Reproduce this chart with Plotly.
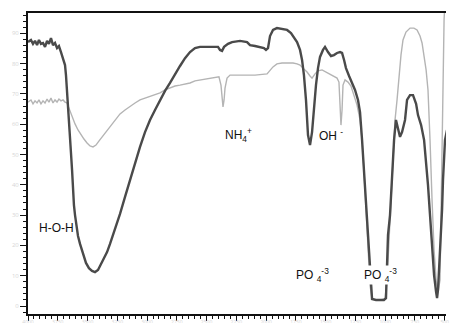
import plotly.graph_objects as go

# Dark spectrum (wavenumber cm-1, transmittance %)
dark_wn = [4000, 3975, 3958, 3941, 3924, 3908, 3891, 3874, 3857, 3840, 3824, 3807, 3790, 3773, 3756, 3740,
           3723, 3706, 3689, 3681, 3672, 3664, 3656, 3647, 3639, 3630, 3622, 3614, 3605, 3588, 3580, 3563,
           3538, 3513, 3488, 3462, 3437, 3412, 3395, 3362, 3336, 3311, 3269, 3227, 3185, 3143, 3101, 3059,
           3017, 2975, 2933, 2891, 2849, 2807, 2765, 2723, 2681, 2639, 2597, 2555, 2471, 2404, 2387, 2370,
           2353, 2320, 2286, 2219, 2160, 2135, 2093, 2051, 2018, 2001, 1984, 1967, 1942, 1909, 1858, 1824,
           1791, 1766, 1740, 1715, 1698, 1682, 1665, 1648, 1631, 1614, 1598, 1581, 1564, 1547, 1522, 1505,
           1480, 1455, 1430, 1404, 1379, 1362, 1345, 1329, 1303, 1278, 1253, 1228, 1211, 1194, 1178, 1161,
           1152, 1144, 1127, 1119, 1110, 1077, 1043, 1010, 993, 984, 976, 959, 942, 925, 909, 892,
           875, 858, 833, 816, 791, 766, 740, 724, 698, 673, 656, 640, 623, 606, 589, 572,
           564, 556, 539, 522, 514, 497, 480]
dark_t = [87.1, 87.8, 86.5, 87.5, 86.1, 87.8, 86.5, 86.8, 85.5, 87.5, 86.5, 88.4, 86.1, 86.8, 85.1, 85.8,
          83.8, 81.8, 79.5, 76.2, 71.3, 64.7, 59.7, 54.8, 50.5, 44.9, 38.3, 33.3, 30.0, 25.7, 23.1, 20.5,
          17.2, 14.2, 12.5, 11.6, 11.2, 11.9, 13.2, 15.8, 17.8, 20.5, 25.1, 30.4, 36.0, 41.6, 47.2, 52.5,
          57.4, 61.4, 64.7, 68.0, 71.0, 73.6, 76.6, 79.2, 81.8, 83.8, 85.1, 85.5, 85.5, 85.5, 84.5, 84.2,
          85.5, 86.5, 87.1, 87.5, 87.1, 86.1, 85.8, 85.5, 85.1, 84.5, 85.1, 89.1, 91.1, 91.7, 91.4, 91.1,
          90.1, 88.8, 87.1, 84.5, 81.2, 76.2, 68.0, 56.4, 53.1, 57.4, 65.3, 72.9, 78.5, 82.2, 84.5, 85.5,
          83.8, 82.5, 82.8, 83.5, 83.8, 83.5, 81.2, 78.5, 75.9, 73.6, 71.3, 68.0, 64.0, 54.8, 44.9, 33.3,
          26.7, 20.1, 10.2, 5.3, 2.3, 2.0, 2.0, 2.0, 2.6, 15.2, 23.4, 30.0, 41.6, 54.8, 61.4, 58.7,
          55.8, 57.4, 61.4, 68.0, 69.6, 69.6, 66.7, 63.0, 59.7, 54.8, 48.2, 39.9, 30.0, 18.5, 10.2, 4.6,
          2.6, 5.3, 16.8, 31.7, 41.6, 54.8, 58.1]

# Light spectrum
light_wn = [4000, 3975, 3958, 3941, 3924, 3908, 3891, 3874, 3857, 3840, 3824, 3807, 3790, 3773, 3756, 3740,
            3723, 3706, 3689, 3672, 3656, 3630, 3605, 3580, 3555, 3530, 3504, 3479, 3454, 3429, 3403, 3378,
            3345, 3311, 3269, 3227, 3185, 3143, 3101, 3059, 3017, 2975, 2933, 2891, 2849, 2807, 2765, 2723,
            2681, 2639, 2597, 2555, 2513, 2471, 2429, 2396, 2379, 2370, 2362, 2353, 2345, 2328, 2303, 2219,
            2093, 1992, 1967, 1942, 1909, 1866, 1816, 1774, 1740, 1715, 1690, 1656, 1631, 1614, 1589, 1564,
            1530, 1497, 1463, 1430, 1404, 1388, 1379, 1371, 1362, 1354, 1337, 1312, 1287, 1262, 1236, 1211,
            1194, 1178, 1161, 1144, 1127, 1110, 1077, 1043, 1001, 984, 967, 951, 934, 917, 900, 884,
            867, 850, 825, 791, 758, 732, 707, 690, 673, 656, 640, 631, 623, 606, 589, 572,
            556, 539, 522, 514, 505, 497]
light_t = [67.3, 68.0, 66.7, 67.7, 67.0, 68.0, 66.7, 67.7, 67.0, 68.3, 67.3, 68.6, 67.0, 68.0, 67.3, 68.3,
           67.7, 68.0, 67.3, 67.0, 65.3, 62.4, 60.1, 58.1, 56.4, 55.1, 53.8, 52.8, 52.5, 53.1, 54.5, 55.8,
           57.4, 59.1, 61.4, 63.4, 64.7, 66.0, 67.0, 68.0, 68.6, 69.0, 69.6, 70.3, 71.3, 71.9, 72.6, 72.9,
           73.3, 73.6, 74.3, 74.6, 74.9, 75.2, 75.6, 75.6, 72.9, 68.6, 65.7, 68.0, 71.9, 75.2, 76.2, 76.2,
           76.2, 76.6, 77.9, 78.9, 79.9, 80.2, 80.2, 80.2, 79.9, 79.5, 78.5, 77.2, 75.9, 75.2, 76.6, 77.6,
           77.9, 77.2, 76.6, 75.9, 75.2, 73.9, 68.0, 59.7, 64.7, 72.9, 74.6, 73.9, 72.6, 69.6, 66.3, 61.4,
           54.8, 44.9, 31.7, 18.5, 6.9, 2.3, 2.0, 2.0, 2.3, 8.6, 21.8, 38.3, 51.5, 61.4, 68.0, 76.2,
           82.8, 87.8, 90.4, 91.7, 91.7, 91.1, 89.1, 86.8, 82.8, 77.9, 71.3, 64.7, 54.8, 35.0, 18.5, 8.6,
           4.6, 8.6, 51.5, 81.2, 94.4, 101.0]

# Band labels
label_text = ["H-O-H", "NH<sub>4</sub><sup>+</sup>", "OH <sup>-</sup>",
              "PO <sub>4</sub><sup>-3</sup>", "PO <sub>4</sub><sup>-3</sup>"]
label_wn = [3761, 2232, 1455, 1614, 1035]
label_t = [25.7, 56.3, 56.3, 10.2, 10.2]
label_bg = ["rgba(0,0,0,0)", "rgba(0,0,0,0)", "rgba(0,0,0,0)", "white", "white"]

x_ticks = list(range(4000, 499, -250))
y_ticks = list(range(0, 91, 10))

fig = go.Figure()
fig.add_trace(go.Scatter(x=light_wn, y=light_t, mode="lines",
                         line=dict(color="#b4b4b4", width=1.4), showlegend=False))
fig.add_trace(go.Scatter(x=dark_wn, y=dark_t, mode="lines",
                         line=dict(color="#4a4a4a", width=2.4), showlegend=False))

for t, x, y, bg in zip(label_text, label_wn, label_t, label_bg):
    fig.add_annotation(x=x, y=y, text=t, showarrow=False, xanchor="center", yanchor="middle",
                       bgcolor=bg, borderpad=0,
                       font=dict(family="Liberation Sans, Arial", size=12, color="#111111"))

fig.update_layout(
    width=450, height=323,
    margin=dict(l=28, r=4, t=13, b=9),
    paper_bgcolor="white", plot_bgcolor="white",
    xaxis=dict(range=[4000, 4235.2 - 8.4 * 446], showgrid=False, zeroline=False,
               showline=True, linecolor="#111111", linewidth=2, mirror=True,
               ticks="outside", ticklen=5, tickwidth=1, tickcolor="#111111",
               tickvals=x_ticks, tickfont=dict(size=5, color="#d6d6d6"),
               ticklabelstandoff=-3,
               minor=dict(dtick=50, ticks="outside", ticklen=3, tickcolor="#111111", tickwidth=1),
               automargin=False),
    yaxis=dict(range=[-2.64, 96.69], showgrid=False, zeroline=False,
               showline=True, linecolor="#111111", linewidth=2,
               ticks="outside", ticklen=6, tickwidth=1, tickcolor="#111111",
               tickvals=y_ticks, tickfont=dict(size=6, color="#d6d6d6"),
               minor=dict(dtick=2, ticks="outside", ticklen=3, tickcolor="#111111", tickwidth=1),
               automargin=False),
)

fig.write_html("out.html", config={"displayModeBar": False},
               post_script="document.body.style.margin='0';document.body.style.overflow='hidden';")
